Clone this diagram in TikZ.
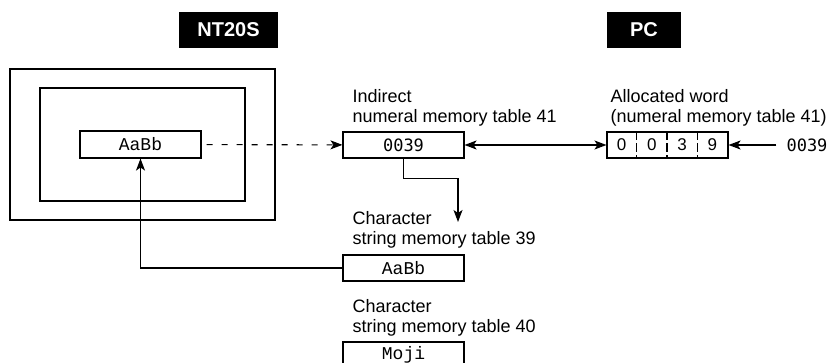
\documentclass[tikz,border=0pt]{standalone}
\usepackage{fontspec}
\setmainfont{Liberation Sans}
\newfontfamily\cour{Liberation Mono}
\newfontfamily\dmono{DejaVu Sans Mono}
\usetikzlibrary{arrows.meta,positioning}
\tikzset{
  tb/.style = {fill=black, text=white, font=\fontsize{20}{24}\selectfont\bfseries, minimum width=99pt, minimum height=36pt, inner sep=0pt},
  fr/.style = {draw, line width=1.1pt, inner sep=0pt},
  mb/.style = {draw, line width=1.1pt, minimum width=121pt, minimum height=26pt, inner sep=0pt, font=\fontsize{18}{20}\selectfont\cour},
  nb/.style = {mb, font=\fontsize{17}{20}\selectfont\dmono},
  lb/.style = {align=left, inner sep=0pt, font=\fontsize{18}{20}\selectfont},
  tip/.style = {Stealth[length=12pt,width=9pt,inset=3pt]},
  arrow/.style = {line width=1.1pt, -{Stealth[length=12pt,width=9pt,inset=3pt]}},
  dbl/.style = {line width=1.1pt, {Stealth[length=12pt,width=9pt,inset=3pt]}-{Stealth[length=12pt,width=9pt,inset=3pt]}}
}
\begin{document}
\begin{tikzpicture}[x=1pt,y=-1pt]
  \useasboundingbox (0,0) rectangle (834,363);
  \node[tb] (nt) at (228.5,30) {NT20S};
  \node[tb, minimum width=74pt] (pc) at (644,30) {PC};
  \node[fr, minimum width=265pt, minimum height=151pt] (screen) at (142.5,144.5) {};
  \node[fr, minimum width=205pt, minimum height=113pt] (window) at (142.5,144.5) {};
  \node[mb, minimum height=27pt] (disp) at (140.5,144.5) {AaBb};
  \node[nb] (ind) at (403.5,145) {0039};
  \node[mb] (alloc) at (667.5,145) {};
  \node[mb] (str39) at (403.5,268) {AaBb};
  \node[mb] (moji) at (403.5,355) {Moji};
  \node[inner xsep=10pt, inner ysep=0pt, font=\fontsize{17}{20}\selectfont\dmono] (pcval) at (807,145) {0039};
  \node[lb, above=5pt of ind.north west, anchor=south west, xshift=10pt] (indlbl) {Indirect\\numeral memory table 41};
  \node[lb, above=5pt of alloc.north west, anchor=south west, xshift=4pt] (alloclbl) {Allocated word\\(numeral memory table 41)};
  \node[lb, above=6pt of str39.north west, anchor=south west, xshift=10pt] (lbl39) {Character\\string memory table 39};
  \node[lb, above=5pt of moji.north west, anchor=south west, xshift=10pt] (lbl40) {Character\\string memory table 40};
  \foreach \d [count=\i] in {0,0,3,9}
    \node[font=\fontsize{17}{20}\selectfont] (cell\i) at ([xshift={(\i-0.5)*30.25pt}]alloc.west) {\d};
  \foreach \i in {1,2,3}
    \draw[line width=1.1pt, dash pattern=on 9pt off 3pt] ([xshift=\i*30.25pt]alloc.north west) -- ([xshift=\i*30.25pt]alloc.south west);
  \coordinate (drop) at (458,222);
  \draw[arrow, dash pattern=on 6pt off 9pt, dash phase=-5pt] (disp) -- (ind);
  \draw[dbl] (ind) -- (alloc);
  \draw[arrow] (pcval) -- (alloc);
  \draw[arrow] (ind.south) -- ++(0,20) -| (drop);
  \draw[arrow] (str39.west) -| (disp.south);
\end{tikzpicture}
\end{document}
